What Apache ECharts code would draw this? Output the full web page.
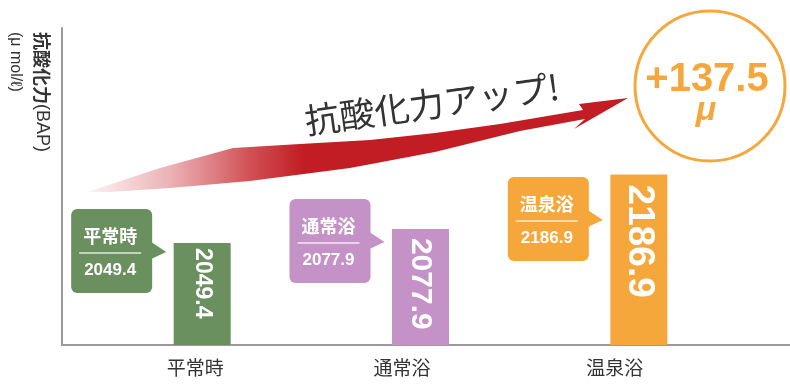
<!DOCTYPE html>
<html><head><meta charset="utf-8">
<script src="https://cdn.jsdelivr.net/npm/echarts@6/dist/echarts.min.js"></script>
<style>html,body{margin:0;padding:0;background:#fff}#c{width:790px;height:391px}</style>
</head><body><div id="c"></div>
<script>
// ---- data ----
const categories = ['平常時', '通常浴', '温泉浴'];
const values = [2049.4, 2077.9, 2186.9];
const gainText = '+137.5';
const gainUnit = 'μ';
const arrowText = '抗酸化力アップ!';
const axisTitle = '抗酸化力';
const axisTitleAbbr = '(BAP)';
const axisUnit = '(μ mol/ℓ)';

// ---- styles ----
const barColors = ['#6A9060', '#C592C8', '#F6A73C'];
const barLabelStyle = [
  {fontSize: 23, distance: 5},
  {fontSize: 30, distance: 9},
  {fontSize: 37, distance: 10}
];
const calloutTops = [209, 199, 177];
const labelShift = [14, 37, 48];
const JP = '"Noto Sans CJK JP", "Noto Sans", sans-serif';
const LAT = '"Liberation Sans", Arial, sans-serif';

const chart = echarts.init(document.getElementById('c'));
const rich = {};
labelShift.forEach((s, i) => { rich['l' + i] = {fontSize: 19, color: '#333', fontFamily: JP, padding: [0, s, 0, 0]}; });

chart.setOption({
  animation: false,
  grid: [
    {left: 93, right: 42, top: 27, bottom: 46},
    {left: 62, right: 0, top: 28, bottom: 46}
  ],
  xAxis: [
    {type: 'category', gridIndex: 0, data: categories,
     axisLine: {show: false}, axisTick: {show: false},
     axisLabel: {margin: 13, formatter: (v, i) => '{l' + i + '|' + v + '}', rich: rich}},
    {type: 'value', gridIndex: 1, min: 0, max: 1,
     axisLine: {show: true, lineStyle: {color: '#9a9a9a', width: 2}},
     axisTick: {show: false}, axisLabel: {show: false}, splitLine: {show: false}}
  ],
  yAxis: [
    {type: 'value', gridIndex: 0, min: 1845, max: 2483, show: false},
    {type: 'value', gridIndex: 1, min: 0, max: 1,
     axisLine: {show: true, lineStyle: {color: '#9a9a9a', width: 2}},
     axisTick: {show: false}, axisLabel: {show: false}, splitLine: {show: false}}
  ],
  series: [{
    type: 'bar', xAxisIndex: 0, yAxisIndex: 0, barWidth: 57,
    data: values.map((v, i) => ({
      value: v,
      itemStyle: {color: barColors[i]},
      label: {
        show: true, position: 'insideTop', distance: barLabelStyle[i].distance,
        rotate: -90, align: 'left', verticalAlign: 'middle',
        color: '#fff', fontWeight: 'bold',
        fontSize: barLabelStyle[i].fontSize, fontFamily: LAT,
        formatter: String(v)
      }
    }))
  }]
});

// ---- annotations ----
const elems = [];
// y-axis title
elems.push({type: 'text', x: 42, y: 32, rotation: -Math.PI / 2,
  style: {text: '{b|' + axisTitle + '}{n|' + axisTitleAbbr + '}', align: 'left', verticalAlign: 'middle',
    textAlign: 'left', textVerticalAlign: 'middle',
    rich: {b: {fontSize: 18, fontWeight: 'bold', fill: '#333', color: '#333', fontFamily: JP},
           n: {fontSize: 18, fill: '#333', color: '#333', fontFamily: LAT}}}});
elems.push({type: 'text', x: 15, y: 32, rotation: -Math.PI / 2,
  style: {text: axisUnit, fill: '#333', fontSize: 16, fontFamily: LAT,
    align: 'left', verticalAlign: 'middle', textAlign: 'left', textVerticalAlign: 'middle'}});

// swoosh arrow
elems.push({type: 'polygon', z: 1,
  shape: {points: [[87,192],[160,168],[233,148],[300,144],[370,140],[435,133],[500,124],[583,110],
                   [579,104],[628,98],[574,129],[585,119],
                   [520,131],[435,152],[350,168],[250,181],[170,188],[110,192]]},
  style: {fill: {type: 'linear', x: 0, y: 0, x2: 1, y2: 0, colorStops: [
    {offset: 0, color: 'rgba(200,40,50,0.05)'},
    {offset: 0.15, color: 'rgba(200,40,50,0.35)'},
    {offset: 0.3, color: 'rgba(196,32,38,0.78)'},
    {offset: 0.4, color: '#C21D24'},
    {offset: 1, color: '#C21D24'}]}}});
elems.push({type: 'text', x: 305, y: 121, rotation: 0.136,
  style: {text: arrowText, fill: '#333', fontSize: 35, fontFamily: JP,
    align: 'left', verticalAlign: 'middle', textAlign: 'left', textVerticalAlign: 'middle'}});

// gain circle
elems.push({type: 'circle', shape: {cx: 710, cy: 86, r: 75}, style: {fill: '#fff', stroke: '#F6A73C', lineWidth: 3}});
elems.push({type: 'text', x: 707, y: 80, style: {text: gainText, fill: '#F6A73C', fontSize: 40, fontWeight: 'bold',
  fontFamily: LAT, align: 'center', verticalAlign: 'middle', textAlign: 'center', textVerticalAlign: 'middle'}});
elems.push({type: 'text', x: 706, y: 111, style: {text: gainUnit, fill: '#F6A73C', fontSize: 34, fontWeight: 'bold', fontStyle: 'italic',
  fontFamily: LAT, align: 'center', verticalAlign: 'middle', textAlign: 'center', textVerticalAlign: 'middle'}});

// callouts
categories.forEach((c, i) => {
  const cx = chart.convertToPixel({seriesIndex: 0}, [i, values[i]])[0];
  const left = cx - 131, w = 81, h = 84, top = calloutTops[i];
  const tipX = cx - 36, tipY = top + 43;
  const col = barColors[i];
  elems.push({type: 'rect', shape: {x: left, y: top, width: w, height: h, r: 6}, style: {fill: col}});
  elems.push({type: 'polygon', shape: {points: [[left + w - 1, tipY - 10], [tipX, tipY], [left + w - 1, tipY + 7]]}, style: {fill: col}});
  elems.push({type: 'text', x: left + 39, y: top + 27, style: {text: c, fill: '#fff', fontSize: 18, fontWeight: 'bold', fontFamily: JP,
    align: 'center', verticalAlign: 'middle', textAlign: 'center', textVerticalAlign: 'middle'}});
  elems.push({type: 'line', shape: {x1: left + 8, y1: top + 44, x2: left + 70, y2: top + 44}, style: {stroke: 'rgba(255,255,255,0.6)', lineWidth: 2}});
  elems.push({type: 'text', x: left + 39, y: top + 61, style: {text: String(values[i]), fill: '#fff', fontSize: 17, fontWeight: 'bold',
    fontFamily: LAT, align: 'center', verticalAlign: 'middle', textAlign: 'center', textVerticalAlign: 'middle'}});
});

chart.setOption({graphic: {elements: elems}});
</script>
</body></html>
